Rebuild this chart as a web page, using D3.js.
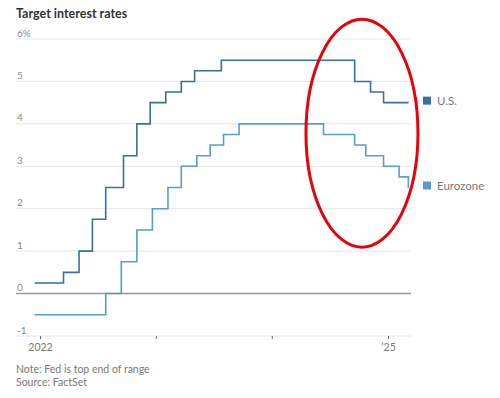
<!DOCTYPE html>
<html>
<head>
<meta charset="utf-8">
<script src="https://cdn.jsdelivr.net/npm/d3@7"></script>
<style>
  body { margin: 0; background: #fff; }
  svg { display: block; font-family: Lato, "Noto Sans", sans-serif; }
</style>
</head>
<body>
<svg id="chart" width="500" height="398"></svg>
<script>
// step dates (rate takes effect on that date) and rates
var usDates = ["2021-12-15", "2022-03-16", "2022-05-04", "2022-06-15", "2022-07-27", "2022-09-21", "2022-11-02",
  "2022-12-14", "2023-02-01", "2023-03-22", "2023-05-03", "2023-07-26", "2024-09-18", "2024-11-07", "2024-12-18", "2025-03-07"];
var usRates = [0.25, 0.5, 1.0, 1.75, 2.5, 3.25, 4.0, 4.5, 4.75, 5.0, 5.25, 5.5, 5.0, 4.75, 4.5, 4.5];

var ezDates = ["2021-12-15", "2022-07-27", "2022-09-14", "2022-11-02", "2022-12-21", "2023-02-08", "2023-03-22",
  "2023-05-10", "2023-06-21", "2023-08-02", "2023-09-20", "2024-06-12", "2024-09-18", "2024-10-23", "2024-12-18",
  "2025-02-05", "2025-03-06", "2025-03-07"];
var ezRates = [-0.5, 0, 0.75, 1.5, 2.0, 2.5, 3.0, 3.25, 3.5, 3.75, 4.0, 3.75, 3.5, 3.25, 3.0, 2.75, 2.5, 2.5];

var yTicks = [-1, 0, 1, 2, 3, 4, 5, 6];
var xTicks = ["2022-01-01", "2023-01-01", "2024-01-01", "2025-01-01"];
var xTickLabels = ["2022", "", "", "\u201925"];

var seriesNames = ["U.S.", "Eurozone"];
var seriesColors = ["#3a6ea5", "#5b9bd5"];

var left = 16, right = 411;
var parse = d3.utcParse("%Y-%m-%d");

var x = d3.scaleUtc()
  .domain([parse("2022-01-01"), parse("2025-01-01")])
  .range([40, 388]);

var y = d3.scaleLinear()
  .domain([-1, 6])
  .range([336, 39]);

var svg = d3.select("#chart");

svg.append("text")
  .attr("x", left).attr("y", 18)
  .attr("font-size", 12.5).attr("font-weight", "bold").attr("fill", "#333")
  .text("Target interest rates");

// gridlines
svg.append("g").selectAll("line")
  .data(yTicks)
  .enter().append("line")
    .attr("x1", left).attr("x2", right)
    .attr("y1", d => y(d)).attr("y2", d => y(d))
    .attr("stroke", d => d === 0 ? "#999" : "#e6e6e6")
    .attr("stroke-width", d => d === 0 ? 1.5 : 1);

svg.append("g").selectAll("text")
  .data(yTicks)
  .enter().append("text")
    .attr("x", left + 1).attr("y", d => y(d) - 2.5)
    .attr("font-size", 10).attr("fill", "#888")
    .text(d => d === 6 ? "6%" : d);

// x axis
var xAxis = d3.axisBottom(x)
  .tickValues(xTicks.map(parse))
  .tickSize(3)
  .tickFormat((d, i) => xTickLabels[i]);

var gx = svg.append("g")
  .attr("transform", "translate(0," + y(-1) + ")")
  .call(xAxis);
gx.select(".domain").remove();
gx.selectAll(".tick line").attr("stroke", "#666");
gx.selectAll(".tick text").attr("fill", "#777").attr("font-size", 10.5).attr("font-family", "Lato, 'Noto Sans', sans-serif").attr("dy", "0.9em");

var line = d3.line()
  .x(d => x(d.date))
  .y(d => y(d.value))
  .curve(d3.curveStepAfter);

var series = [
  usDates.map((d, i) => ({date: parse(d), value: usRates[i]})),
  ezDates.map((d, i) => ({date: parse(d), value: ezRates[i]}))
];

svg.append("g").selectAll("path")
  .data(series)
  .enter().append("path")
    .attr("d", line)
    .attr("fill", "none")
    .attr("stroke", (d, i) => seriesColors[i])
    .attr("stroke-width", 1.6);

// legend at the end of each line
var legend = svg.append("g").selectAll("g")
  .data(series)
  .enter().append("g")
    .attr("transform", d => "translate(423," + (y(d[d.length - 1].value) - 2) + ")");

legend.append("rect")
  .attr("x", 0).attr("y", -4)
  .attr("width", 8).attr("height", 8)
  .attr("fill", (d, i) => seriesColors[i]);

legend.append("text")
  .attr("x", 14).attr("dy", "0.35em")
  .attr("font-size", 11.5).attr("fill", "#777")
  .text((d, i) => seriesNames[i]);

// red circle annotation
svg.append("ellipse")
  .attr("cx", x(parse("2024-10-11")))
  .attr("cy", y(3.78))
  .attr("rx", 56).attr("ry", 114)
  .attr("fill", "none")
  .attr("stroke", "#e8000b")
  .attr("stroke-width", 3);

svg.append("text")
  .attr("x", left).attr("y", 373)
  .attr("font-size", 10.5).attr("fill", "#777")
  .text("Note: Fed is top end of range");

svg.append("text")
  .attr("x", left).attr("y", 386)
  .attr("font-size", 10.5).attr("fill", "#777")
  .text("Source: FactSet");
</script>
</body>
</html>
